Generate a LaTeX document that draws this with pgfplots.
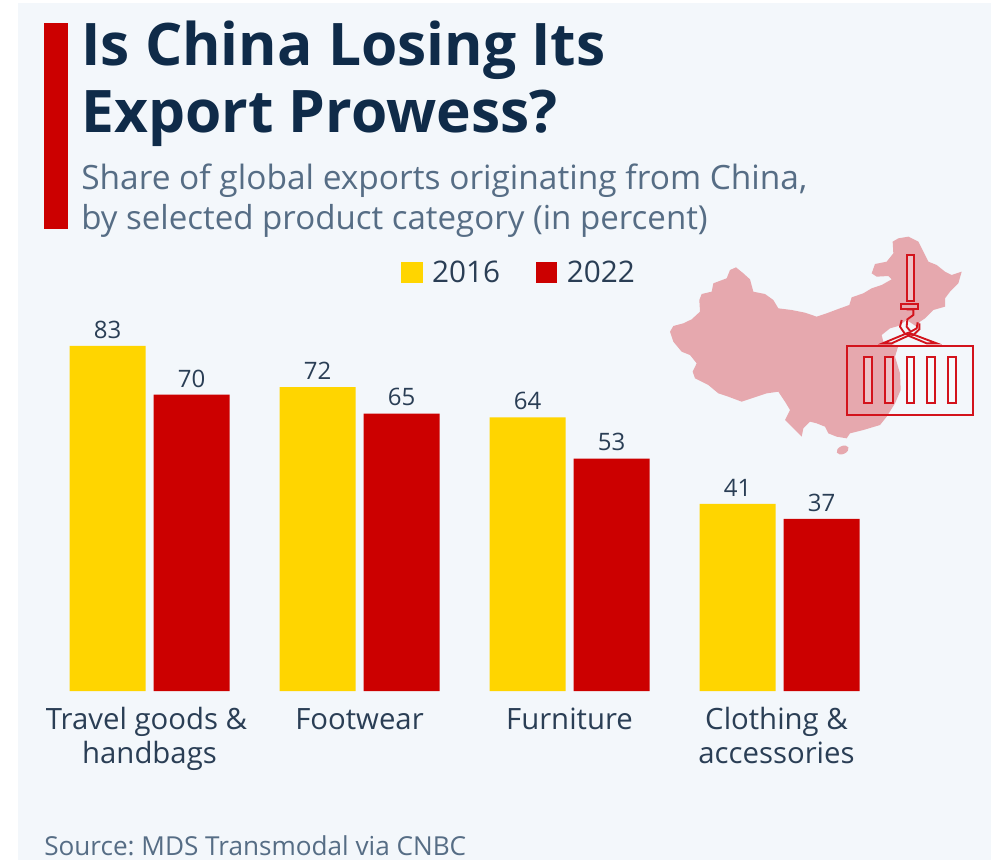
\documentclass[border=0pt]{standalone}
\usepackage{pgfplots}
\pgfplotsset{compat=1.18}
\usepackage{pgfplotstable}
\usepackage{fontspec}
\setmainfont{Open Sans}
\frenchspacing
\definecolor{panel}{HTML}{F3F7FB}
\definecolor{navy}{HTML}{0F2B49}
\definecolor{slate}{HTML}{566D85}
\definecolor{lab}{HTML}{2A3E55}
\definecolor{yel}{HTML}{FFD500}
\definecolor{rd}{HTML}{CC0000}
\definecolor{mapc}{HTML}{E6A8AE}
\definecolor{icon}{HTML}{D3131C}
% baseline offset: the bars do not start at zero in the original
\pgfplotstableread{
x v
0 83
1 72
2 64
3 41
}\first
\pgfplotstableread{
x v
0 70
1 65
2 53
3 37
}\second
\begin{document}
\begin{tikzpicture}[x=0.75pt,y=-0.75pt]
\useasboundingbox (0,0) rectangle (997,860);
\path[fill=white] (0,0) rectangle (997,860);
\path[fill=panel] (18,3) rectangle (991,860);
\fill[rd] (44,23) rectangle (68,229);
\node[anchor=base west,inner sep=0,font=\fontsize{44}{50}\selectfont\bfseries,text=navy] at (81,65) {Is China Losing Its};
\node[anchor=base west,inner sep=0,font=\fontsize{44}{50}\selectfont\bfseries,text=navy] at (81,132) {Export Prowess?};
\node[anchor=base west,inner sep=0,font=\fontsize{25.1}{30}\selectfont,text=slate] at (81,189) {Share of global exports originating from China,};
\node[anchor=base west,inner sep=0,font=\fontsize{24.8}{30}\selectfont,text=slate] at (81,229) {by selected product category (in percent)};
\node[anchor=base west,inner sep=0,font=\fontsize{19.6}{22}\selectfont,text=slate] at (44,855) {Source: MDS Transmodal via CNBC};
% map and crane icon, traced in 3x crop coordinates
\begin{scope}[shift={(650,220)},x=0.25pt,y=-0.25pt]
\fill[mapc] (60,335)--(70,318)--(100,310)--(125,298)--(150,275)--(148,240)--(155,222)--(185,215)--(190,190)--(230,175)--(240,150)--(258,142)--(280,160)--(300,178)--(310,215)--(345,222)--(370,240)--(385,265)--(425,270)--(465,278)--(500,290)--(530,280)--(570,265)--(598,255)--(605,232)--(640,220)--(665,205)--(695,195)--(725,178)--(715,168)--(680,170)--(665,160)--(675,132)--(710,125)--(730,100)--(728,65)--(745,55)--(775,50)--(805,65)--(820,95)--(835,125)--(860,135)--(885,155)--(905,165)--(935,155)--(925,190)--(900,215)--(885,235)--(885,260)--(850,270)--(825,295)--(810,305)--(800,320)--(770,300)--(745,318)--(720,325)--(695,345)--(700,365)--(745,378)--(735,410)--(750,460)--(752,510)--(735,550)--(710,590)--(690,615)--(640,630)--(600,640)--(590,655)--(560,650)--(535,640)--(525,620)--(500,610)--(480,605)--(460,625)--(455,650)--(430,625)--(405,600)--(420,570)--(405,545)--(385,515)--(350,520)--(320,530)--(275,545)--(235,530)--(205,520)--(175,495)--(135,475)--(128,455)--(140,430)--(120,405)--(95,395)--(70,365)--cycle;
\fill[mapc,rotate around={25:(578,690)}] (578,690) ellipse [x radius=19,y radius=12];
\begin{scope}[draw=icon,line width=1.4pt]
\draw (590,378) rectangle (970,584);
\foreach \s in {642,705,770,832,895} \draw[fill=white,fill opacity=.3] (\s,410) rectangle (\s+23,550);
\draw[fill=white,fill opacity=.3] (770,105) rectangle (792,243);
\draw (752,253) rectangle (805,268);
\draw (770,268)--(790,268)--(790,285)--(772,298)--(770,320)--(782,335)--(800,325)--(803,307);
\draw (755,300)--(750,320)--(765,342)--(790,345)--(808,328)--(808,310);
\draw (698,370)--(775,338)--(860,370)--(830,370)--(775,347)--(725,370)--cycle;
\end{scope}
\end{scope}
\coordinate (base) at (0,691);
\begin{axis}[
  at={(base)},anchor=south west,
  scale only axis,
  width=747.75pt,height=518.25pt,
  xmin=-0.7119,xmax=4.0357,
  ymin=0,ymax=183.78,
  ybar,
  bar width=57pt,
  axis line style={draw=none},
  major tick style={draw=none},
  ytick=\empty,
  xtick={0,1,2,3},
  xticklabels={{\strut Travel goods \&\hspace*{4.5pt}\\handbags},{\strut Footwear},{\strut Furniture},{\strut Clothing \&\hspace*{4.5pt}\\accessories\hspace*{4.5pt}}},
  xticklabel style={align=center,font=\fontsize{22}{26}\selectfont,text=lab,yshift=-2.5pt},
  /pgf/number format/assume math mode=true,
  nodes near coords,
  nodes near coords style={font=\fontsize{18}{22}\selectfont,text=lab,inner sep=2pt,yshift=3.4pt},
  point meta=explicit,
  legend columns=2,
  legend style={at={(0.521,0.606)},anchor=center,draw=none,fill=none,
    font=\fontsize{22.3}{26}\selectfont,text=lab,
    /tikz/every odd column/.append style={column sep=5pt},
    /tikz/every even column/.append style={column sep=25pt}},
  legend image code/.code={\fill[#1] (0pt,-8pt) rectangle (16pt,8pt);},
]
\addplot[fill=yel,draw=none,bar shift=-31.5pt] table[x=x,y expr=\thisrow{v}+8.8,meta=v] {\first};
\addplot[fill=rd,draw=none,bar shift=31.5pt] table[x=x,y expr=\thisrow{v}+8.8,meta=v] {\second};
\legend{2016,2022}
\end{axis}
\end{tikzpicture}
\end{document}
